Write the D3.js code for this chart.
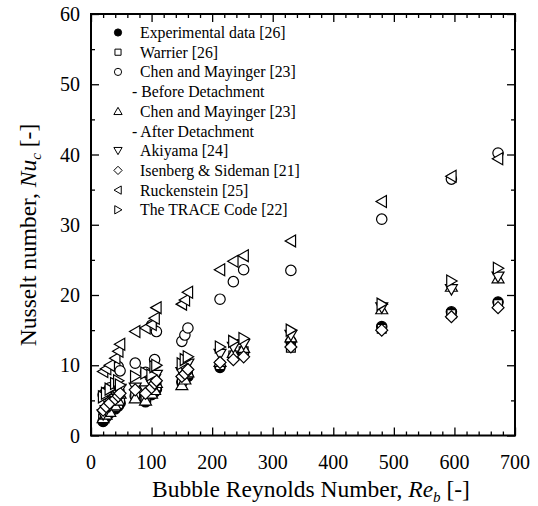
<!DOCTYPE html>
<html>
<head>
<meta charset="utf-8">
<script src="https://cdn.jsdelivr.net/npm/d3@7"></script>
<style>
  html, body { margin: 0; padding: 0; background: #fff; }
  svg { display: block; }
  text { font-family: "Liberation Serif", "DejaVu Serif", serif; fill: #000; }
</style>
</head>
<body>
<script>
// Bubble Reynolds numbers of the measured cases
const reynolds = [20, 25, 31, 40, 45, 48, 73, 90, 100, 105, 108, 150, 155, 160, 213, 235, 252, 330, 480, 595, 672];

// Nusselt numbers, one list per data set / correlation
const nuExperimental = [2.0, 2.6, 3.2, 3.8, 4.2, 4.6, 5.6, 4.8, 5.8, 6.2, 6.6, 7.6, 8.0, 8.4, 9.7, 11.2, 11.8, 13.4, 15.5, 17.6, 19.0];
const nuWarrier      = [2.4, 2.9, 3.5, 4.1, 4.5, 5.0, 5.9, 5.2, 6.2, 6.8, 7.0, 7.8, 8.2, 8.8, 10.0, 11.4, 12.0, 12.5, 15.2, 17.3, 18.7];
const nuChenBefore   = [5.8, 6.2, 6.8, 9.9, 9.8, 9.2, 10.3, 9.0, 15.7, 10.8, 14.8, 13.4, 14.3, 15.3, 19.4, 21.9, 23.6, 23.5, 30.8, 36.5, 40.2];
const nuChenAfter    = [2.5, 3.0, 3.4, 4.3, 5.0, 6.0, 5.3, 5.0, 6.0, 6.5, 7.5, 7.2, 8.0, 9.0, 10.5, 11.8, 12.5, 14.0, 18.0, 21.2, 22.4];
const nuAkiyama      = [3.0, 3.6, 4.2, 5.2, 5.8, 6.6, 6.8, 6.4, 7.4, 8.0, 8.6, 9.0, 9.6, 10.2, 11.6, 12.6, 13.0, 14.3, 18.2, 20.8, 22.6];
const nuIsenberg     = [3.6, 4.1, 4.6, 5.2, 5.6, 6.0, 6.5, 6.0, 6.8, 7.4, 7.8, 8.4, 8.8, 9.4, 10.4, 10.8, 11.2, 12.6, 15.0, 16.9, 18.2];
const nuRuckenstein  = [9.1, 9.5, 10.0, 11.0, 12.0, 13.0, 14.8, 15.3, 15.8, 16.7, 18.2, 18.7, 19.3, 20.4, 23.6, 24.8, 25.6, 27.7, 33.3, 36.9, 39.4];
const nuTrace        = [5.5, 6.0, 6.6, 7.4, 7.8, 7.2, 8.4, 8.9, 8.6, 9.8, 10.0, 10.2, 10.8, 11.2, 12.6, 13.4, 13.8, 15.0, 18.7, 22.0, 23.8];

// Legend entries (second line is an indented note)
const legendLabels = [
  ["Experimental data [26]"],
  ["Warrier [26]"],
  ["Chen and Mayinger [23]", "- Before Detachment"],
  ["Chen and Mayinger [23]", "- After Detachment"],
  ["Akiyama [24]"],
  ["Isenberg & Sideman [21]"],
  ["Ruckenstein [25]"],
  ["The TRACE Code [22]"]
];
const markerKinds = ["dot", "square", "circle", "triUp", "triDown", "diamond", "triLeft", "triRight"];
const seriesValues = [nuExperimental, nuWarrier, nuChenBefore, nuChenAfter, nuAkiyama, nuIsenberg, nuRuckenstein, nuTrace];

const xMajor = [0, 100, 200, 300, 400, 500, 600, 700];
const yMajor = [0, 10, 20, 30, 40, 50, 60];

const W = 538, H = 506;
const plot = { left: 91, right: 515, top: 14, bottom: 435.5 };

const x = d3.scaleLinear().domain([0, 700]).range([plot.left, plot.right]);
const y = d3.scaleLinear().domain([0, 60]).range([plot.bottom, plot.top]);

const svg = d3.select("body").append("svg").attr("width", W).attr("height", H);

// marker outline generator, centred on the origin
function markerPath(kind, s) {
  const p = d3.path();
  switch (kind) {
    case "dot":
    case "circle":
      p.arc(0, 0, s, 0, 2 * Math.PI); break;
    case "square":
      p.rect(-s * 0.85, -s * 0.85, s * 1.7, s * 1.7); break;
    case "diamond":
      p.moveTo(0, -s * 1.15); p.lineTo(s * 1.15, 0); p.lineTo(0, s * 1.15); p.lineTo(-s * 1.15, 0); p.closePath(); break;
    case "triUp":
      p.moveTo(0, -s * 1.1); p.lineTo(s * 1.15, s * 0.9); p.lineTo(-s * 1.15, s * 0.9); p.closePath(); break;
    case "triDown":
      p.moveTo(0, s * 1.1); p.lineTo(s * 1.15, -s * 0.9); p.lineTo(-s * 1.15, -s * 0.9); p.closePath(); break;
    case "triLeft":
      p.moveTo(-s * 1.1, 0); p.lineTo(s * 0.9, -s * 1.15); p.lineTo(s * 0.9, s * 1.15); p.closePath(); break;
    case "triRight":
      p.moveTo(s * 1.1, 0); p.lineTo(-s * 0.9, -s * 1.15); p.lineTo(-s * 0.9, s * 1.15); p.closePath(); break;
  }
  return p.toString();
}

// ---- axes with inward ticks on all four sides ----
const xMinor = d3.range(0, 701, 20).filter(v => v % 100 !== 0);
const yMinor = d3.range(5, 60, 10);
const major = 8, minor = 4;

function tickAxis(axisFn, scale, values, len, transform) {
  svg.append("g")
    .attr("transform", transform)
    .call(axisFn(scale).tickValues(values).tickSizeInner(-len).tickSizeOuter(0).tickFormat(""))
    .call(g => g.select(".domain").remove())
    .call(g => g.selectAll("line").attr("stroke", "#000").attr("stroke-width", 1.3));
}
tickAxis(d3.axisBottom, x, xMajor, major, `translate(0,${plot.bottom})`);
tickAxis(d3.axisBottom, x, xMinor, minor, `translate(0,${plot.bottom})`);
tickAxis(d3.axisTop, x, xMajor, major, `translate(0,${plot.top})`);
tickAxis(d3.axisTop, x, xMinor, minor, `translate(0,${plot.top})`);
tickAxis(d3.axisLeft, y, yMajor, major, `translate(${plot.left},0)`);
tickAxis(d3.axisLeft, y, yMinor, minor, `translate(${plot.left},0)`);
tickAxis(d3.axisRight, y, yMajor, major, `translate(${plot.right},0)`);
tickAxis(d3.axisRight, y, yMinor, minor, `translate(${plot.right},0)`);

// tick labels
svg.append("g").selectAll("text").data(xMajor).join("text")
  .attr("x", d => x(d)).attr("y", plot.bottom + 33)
  .attr("text-anchor", "middle").attr("font-size", 20).text(d => d);
svg.append("g").selectAll("text").data(yMajor).join("text")
  .attr("x", plot.left - 11).attr("y", d => y(d) + 7)
  .attr("text-anchor", "end").attr("font-size", 20).text(d => d);

// frame
svg.append("rect")
  .attr("x", plot.left).attr("y", plot.top)
  .attr("width", plot.right - plot.left).attr("height", plot.bottom - plot.top)
  .attr("fill", "none").attr("stroke", "#000").attr("stroke-width", 2);

// ---- data points ----
const pts = svg.append("g");
seriesValues.forEach((vals, si) => {
  const kind = markerKinds[si];
  pts.append("g").selectAll("path").data(vals.map((v, i) => [reynolds[i], v])).join("path")
    .attr("transform", d => `translate(${x(d[0])},${y(d[1])})`)
    .attr("d", markerPath(kind, 5.2))
    .attr("fill", kind === "dot" ? "#000" : "#fff")
    .attr("stroke", "#000").attr("stroke-width", 1.2);
});

// ---- legend ----
const legend = svg.append("g");
let row = 0;
const rowH = 19.7, legX = 118, textX = 140, legY0 = 32.5;
legendLabels.forEach((lines, i) => {
  const cy = legY0 + row * rowH;
  legend.append("path")
    .attr("transform", `translate(${legX},${cy})`)
    .attr("d", markerPath(markerKinds[i], 3.6))
    .attr("fill", markerKinds[i] === "dot" ? "#000" : "#fff")
    .attr("stroke", "#000").attr("stroke-width", 1);
  legend.append("text").attr("x", textX).attr("y", cy + 5.5)
    .attr("font-size", 15.8).text(lines[0]);
  row++;
  if (lines[1]) {
    legend.append("text").attr("x", textX - 8).attr("y", legY0 + row * rowH + 5.5)
      .attr("font-size", 15.8).text(lines[1]);
    row++;
  }
});

// ---- axis titles ----
const xt = svg.append("text").attr("x", 311).attr("y", 497)
  .attr("text-anchor", "middle").attr("font-size", 23.5);
xt.append("tspan").text("Bubble Reynolds Number, ");
xt.append("tspan").attr("font-style", "italic").text("Re");
xt.append("tspan").attr("font-style", "italic").attr("font-size", 15).attr("dy", 5).text("b");
xt.append("tspan").attr("dy", -5).text(" [-]");

const yt = svg.append("text").attr("transform", `translate(36,235) rotate(-90)`)
  .attr("text-anchor", "middle").attr("font-size", 23.5);
yt.append("tspan").text("Nusselt number, ");
yt.append("tspan").attr("font-style", "italic").text("Nu");
yt.append("tspan").attr("font-style", "italic").attr("font-size", 15).attr("dy", 5).text("c");
yt.append("tspan").attr("dy", -5).text(" [-]");
</script>
</body>
</html>
